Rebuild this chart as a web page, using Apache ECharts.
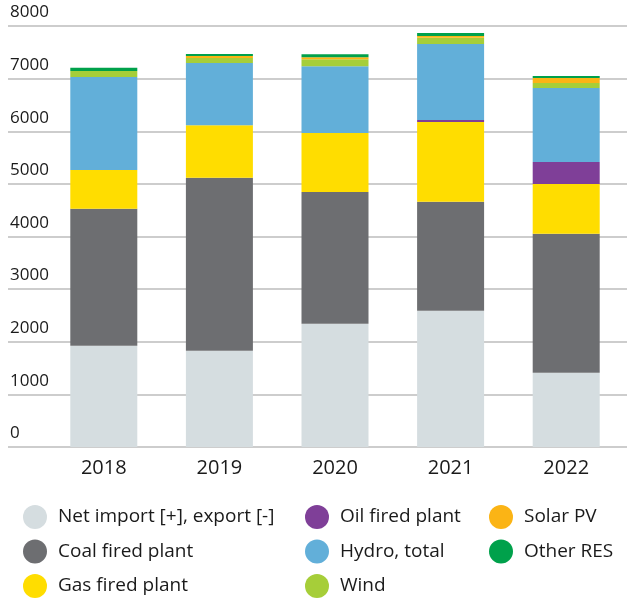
<!DOCTYPE html>
<html>
<head>
<meta charset="utf-8">
<script src="https://cdn.jsdelivr.net/npm/echarts@6/dist/echarts.min.js"></script>
<style>
html,body{margin:0;padding:0;background:#fff;}
#main{width:627px;height:599px;}
</style>
</head>
<body>
<div id="main"></div>
<script>
var myChart = echarts.init(document.getElementById('main'));

var years = ['2018', '2019', '2020', '2021', '2022'];
var yTicks = [0, 1000, 2000, 3000, 4000, 5000, 6000, 7000, 8000];

// stacked bottom to top
var netImport = [1925, 1830, 2340, 2590, 1410];
var coal = [2600, 3285, 2505, 2070, 2640];
var gas = [740, 1000, 1120, 1515, 950];
var oil = [0, 0, 0, 38, 418];
var hydro = [1767, 1184, 1272, 1444, 1405];
var wind = [113, 95, 133, 121, 95];
var solar = [0, 38, 38, 32, 95];
var otherRes = [60, 38, 57, 57, 38];

var names = ['Net import [+], export [-]', 'Coal fired plant', 'Gas fired plant',
  'Oil fired plant', 'Hydro, total', 'Wind', 'Solar PV', 'Other RES'];
var colors = ['#d5dde0', '#6d6e71', '#ffdd00', '#7f3f98', '#62afd9', '#a6ce39', '#fbb415', '#00a14b'];
var values = [netImport, coal, gas, oil, hydro, wind, solar, otherRes];

var series = [];
for (var i = 0; i < names.length; i++) {
  series.push({
    name: names[i],
    type: 'bar',
    stack: 'total',
    xAxisIndex: 1,
    yAxisIndex: 1,
    barWidth: 67,
    itemStyle: {color: colors[i]},
    data: values[i]
  });
}

var legendBase = {
  orient: 'vertical',
  top: 505,
  height: 100,
  padding: 0,
  icon: 'circle',
  itemWidth: 24,
  itemHeight: 24,
  itemGap: 10.5,
  selectedMode: false,
  textStyle: {fontFamily: 'Open Sans', fontSize: 19, color: '#1a1a1a', padding: [0, 0, 0, 6]}
};

var option = {
  animation: false,
  backgroundColor: '#fff',
  textStyle: {fontFamily: 'Open Sans'},
  grid: [
    {left: 8, right: 0, top: 26, bottom: 152, containLabel: false}, // gridlines + y labels
    {left: 46, right: 3, top: 26, bottom: 152, containLabel: false} // bars
  ],
  legend: [
    Object.assign({left: 23, data: names.slice(0, 3)}, legendBase),
    Object.assign({left: 305, data: names.slice(3, 6)}, legendBase),
    Object.assign({left: 489, data: names.slice(6, 8)}, legendBase)
  ],
  xAxis: [
    {gridIndex: 0, type: 'category', data: years, show: false},
    {
      gridIndex: 1,
      type: 'category',
      data: years,
      axisLine: {show: false},
      axisTick: {show: false},
      axisLabel: {fontSize: 20, color: '#1a1a1a', margin: 11}
    }
  ],
  yAxis: [
    {
      gridIndex: 0,
      type: 'value',
      min: yTicks[0],
      max: yTicks[yTicks.length - 1],
      interval: 1000,
      axisLine: {show: false},
      axisTick: {show: false},
      splitLine: {lineStyle: {color: '#bdbdbd', width: 1.5}},
      axisLabel: {
        inside: true,
        margin: 2,
        verticalAlign: 'bottom',
        padding: [0, 0, 5, 0],
        fontSize: 17,
        color: '#1a1a1a',
        formatter: function (v) { return String(v); }
      }
    },
    {gridIndex: 1, type: 'value', min: 0, max: 8000, show: false}
  ],
  series: series
};

myChart.setOption(option);
</script>
</body>
</html>
